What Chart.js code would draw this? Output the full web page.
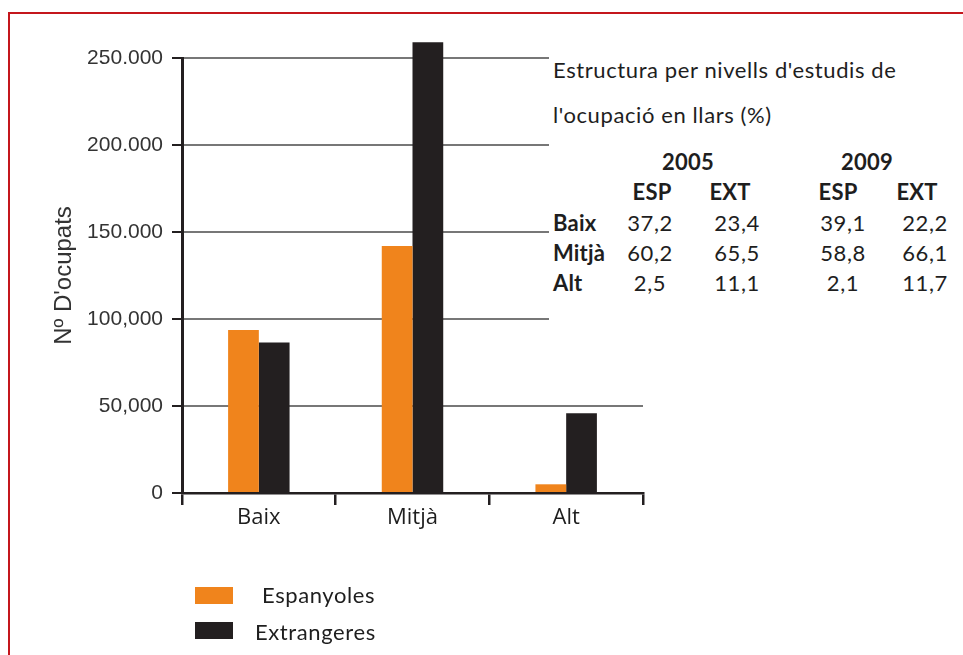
<!DOCTYPE html>
<html>
<head>
<meta charset="utf-8">
<script src="https://cdn.jsdelivr.net/npm/chart.js@4.4.1/dist/chart.umd.min.js"></script>
<style>
  html, body { margin: 0; padding: 0; background: #ffffff; width: 963px; height: 655px; overflow: hidden; }
  #wrap { position: relative; width: 963px; height: 655px; }
  #frame { position: absolute; left: 8px; top: 12px; width: 1000px; height: 700px; border-top: 2px solid #c4161c; border-left: 2px solid #c4161c; }
  #chart { position: absolute; left: 0; top: 0; }
  #box { position: absolute; left: 549px; top: 38px; width: 414px; height: 288px; background: #ffffff; }
  .t { position: absolute; font-family: Lato, "Open Sans", sans-serif; font-size: 22px; line-height: 22px; letter-spacing: 0.6px; color: #1e1e1e; white-space: nowrap; }
  .b { font-weight: bold; letter-spacing: 0.2px; }
  .c { transform: translateX(-50%); }
  .sw { position: absolute; width: 38px; height: 17px; }
</style>
</head>
<body>
<div id="wrap">
  <div id="frame"></div>
  <canvas id="chart" width="963" height="655"></canvas>
  <div id="box"></div>
  <div id="legend"></div>
</div>
<script>
// ---- data ----
const categories = ["Baix", "Mitjà", "Alt"];
const seriesNames = ["Espanyoles", "Extrangeres"];
const espanyoles = [93700, 142000, 5000];
const extrangeres = [86500, 259000, 45800];
const yTickValues = [0, 50000, 100000, 150000, 200000, 250000];
const yTickLabels = ["0", "50,000", "100,000", "150.000", "200.000", "250.000"];
const yTitle = "Nº D'ocupats";

const tableTitle = ["Estructura per nivells d'estudis de", "l'ocupació en llars (%)"];
const tableYears = ["2005", "2009"];
const tableCols = ["ESP", "EXT", "ESP", "EXT"];
const tableRows = ["Baix", "Mitjà", "Alt"];
const tableBaix = ["37,2", "23,4", "39,1", "22,2"];
const tableMitja = ["60,2", "65,5", "58,8", "66,1"];
const tableAlt = ["2,5", "11,1", "2,1", "11,7"];

// ---- styles ----
const orange = "#f0841c";
const dark = "#231f20";

const chart = new Chart(document.getElementById("chart"), {
  type: "bar",
  data: {
    labels: categories,
    datasets: [
      { label: seriesNames[0], data: espanyoles, backgroundColor: orange, clip: false },
      { label: seriesNames[1], data: extrangeres, backgroundColor: dark, clip: false }
    ]
  },
  options: {
    responsive: false,
    animation: false,
    events: [],
    categoryPercentage: 0.4,
    barPercentage: 1.0,
    layout: { padding: { left: 50, right: 320, top: 58, bottom: 122 } },
    plugins: { legend: { display: false }, tooltip: { enabled: false } },
    scales: {
      x: {
        offset: true,
        grid: { offset: true, drawOnChartArea: false, drawTicks: true, tickLength: 12, color: dark, lineWidth: 2.5 },
        border: { color: dark, width: 2.5 },
        ticks: { font: { family: "'Open Sans'", size: 22 }, color: "#1e1e1e", padding: 0 },
        afterFit: s => { s.height = 40; }
      },
      y: {
        min: 0,
        max: 250000,
        afterBuildTicks: s => { s.ticks = yTickValues.map(v => ({ value: v })); },
        ticks: {
          font: { family: "'Liberation Sans', Arial", size: 21 },
          color: "#333",
          padding: 9,
          callback: v => yTickLabels[yTickValues.indexOf(v)]
        },
        grid: { color: "#777", lineWidth: 2, tickColor: dark, tickLength: 10, drawTicks: true },
        border: { color: dark, width: 3 },
        title: { display: true, text: yTitle, font: { family: "'Liberation Sans', Arial", size: 24 }, color: "#333", padding: 0 },
        afterFit: s => { s.width = 132; }
      }
    }
  }
});

// ---- HTML text block & legend ----
const wrap = document.getElementById("wrap");
const F = 22;
function put(text, x, yc, cls) {
  const d = document.createElement("div");
  d.className = "t " + (cls || "");
  d.textContent = text;
  d.style.left = x + "px";
  d.style.top = (yc - 0.53 * F) + "px";
  wrap.appendChild(d);
  return d;
}
put(tableTitle[0], 553, 71);
put(tableTitle[1], 553, 116);
const yearX = [688, 867];
tableYears.forEach((t, i) => put(t, yearX[i], 163, "b c"));
const headX = [652, 730, 838, 917];
tableCols.forEach((t, i) => put(t, headX[i], 193, "b c"));
const rowY = [224, 254, 284];
const valX = [650, 737, 843, 925];
[tableBaix, tableMitja, tableAlt].forEach((row, r) => {
  put(tableRows[r], 553, rowY[r], "b");
  row.forEach((v, i) => put(v, valX[i], rowY[r], "c"));
});

const legSwTop = [587, 622];
const legTextX = [262, 255];
const legTextY = [596, 633];
chart.data.datasets.forEach((ds, i) => {
  const sw = document.createElement("div");
  sw.className = "sw";
  sw.style.left = "195px";
  sw.style.top = legSwTop[i] + "px";
  sw.style.background = ds.backgroundColor;
  wrap.appendChild(sw);
  put(ds.label, legTextX[i], legTextY[i]);
});
</script>
</body>
</html>
